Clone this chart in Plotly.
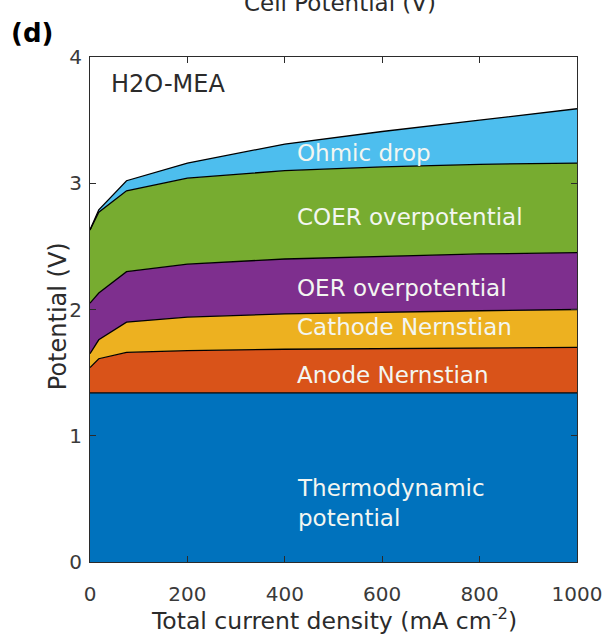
import plotly.graph_objects as go

# current density (mA cm^-2)
current_density = [0, 18, 75, 200, 400, 600, 800, 1000]

# cumulative tops (V)
thermo_top = [1.34, 1.34, 1.34, 1.34, 1.34, 1.34, 1.34, 1.34]
anode_top = [1.54, 1.61, 1.66, 1.675, 1.685, 1.69, 1.695, 1.70]
cathode_top = [1.65, 1.76, 1.90, 1.94, 1.965, 1.98, 1.99, 2.00]
oer_top = [2.05, 2.13, 2.30, 2.36, 2.40, 2.42, 2.44, 2.45]
coer_top = [2.63, 2.77, 2.94, 3.04, 3.10, 3.13, 3.15, 3.16]
total_top = [2.63, 2.79, 3.02, 3.16, 3.31, 3.41, 3.50, 3.59]

def diff(a, b):
    return [round(x - y, 4) for x, y in zip(a, b)]

thermodynamic = thermo_top
anode_nernst = diff(anode_top, thermo_top)
cathode_nernst = diff(cathode_top, anode_top)
oer_over = diff(oer_top, cathode_top)
coer_over = diff(coer_top, oer_top)
ohmic_drop = diff(total_top, coer_top)

layers = [
    ("Thermodynamic potential", thermodynamic, "#0072BD"),
    ("Anode Nernstian", anode_nernst, "#D95319"),
    ("Cathode Nernstian", cathode_nernst, "#EDB120"),
    ("OER overpotential", oer_over, "#7E2F8E"),
    ("COER overpotential", coer_over, "#77AC30"),
    ("Ohmic drop", ohmic_drop, "#4DBEEE"),
]

label_x = 420
label_texts = ["Thermodynamic<br>potential", "Anode Nernstian", "Cathode Nernstian",
               "OER overpotential", "COER overpotential", "Ohmic drop"]
label_y = [0.47, 1.48, 1.86, 2.17, 2.73, 3.24]

x_ticks = [0, 200, 400, 600, 800, 1000]
y_ticks = [0, 1, 2, 3, 4]

FONT = "DejaVu Sans, Verdana, sans-serif"
AX = "#2b2b2b"

# plot area in pixels
L, R, T, B = 90, 34, 57, 82
W, H = 614, 644
PW, PH = W - L - R, H - T - B

def px_to_paper_x(px):
    return (px - L) / PW

def px_to_paper_y(py):
    return (H - B - py) / PH

fig = go.Figure()
for name, vals, col in layers:
    fig.add_trace(go.Scatter(
        x=current_density, y=vals, name=name, mode="lines",
        stackgroup="one", fill="tonexty", fillcolor=col,
        line=dict(color="black", width=1.3), showlegend=False,
    ))

for t, yv in zip(label_texts, label_y):
    fig.add_annotation(x=label_x, y=yv, xref="x", yref="y", text=t,
                       showarrow=False, xanchor="left", yanchor="middle", align="left",
                       font=dict(family=FONT, size=23, color="#F3F6F1"))

fig.add_annotation(x=38, y=3.79, xref="x", yref="y", text="H2O-MEA", showarrow=False,
                   xanchor="left", yanchor="middle",
                   font=dict(family=FONT, size=24, color=AX))

fig.add_annotation(x=px_to_paper_x(32), y=px_to_paper_y(33), xref="paper", yref="paper",
                   text="<b>(d)</b>", showarrow=False, xanchor="center", yanchor="middle",
                   font=dict(family=FONT, size=26, color="black"))

fig.add_annotation(x=px_to_paper_x(342), y=px_to_paper_y(18), xref="paper", yref="paper",
                   text="Cell Potential (V)", showarrow=False, xanchor="center", yanchor="bottom",
                   font=dict(family=FONT, size=23, color=AX))

fig.add_annotation(x=0.5, y=px_to_paper_y(619), xref="paper", yref="paper",
                   text="Total current density (mA cm<sup>-2</sup>)", showarrow=False,
                   xanchor="center", yanchor="middle",
                   font=dict(family=FONT, size=23.5, color=AX))

fig.add_annotation(x=px_to_paper_x(58), y=px_to_paper_y(316), xref="paper", yref="paper",
                   text="Potential (V)", showarrow=False, textangle=-90,
                   xanchor="center", yanchor="middle",
                   font=dict(family=FONT, size=24, color=AX))

fig.update_layout(
    width=W, height=H,
    margin=dict(l=L, r=R, t=T, b=B),
    paper_bgcolor="white", plot_bgcolor="white",
    font=dict(family=FONT, size=20, color=AX),
    xaxis=dict(range=[0, 1000], tickvals=x_ticks,
               ticks="inside", ticklen=6, tickcolor=AX, showline=True, linecolor=AX,
               linewidth=1, mirror="ticks", showgrid=False, zeroline=False,
               ticklabelstandoff=14, tickfont=dict(size=20, color="#3a3a3a")),
    yaxis=dict(range=[0, 4], tickvals=y_ticks,
               ticks="inside", ticklen=6, tickcolor=AX, showline=True, linecolor=AX,
               linewidth=1, mirror="ticks", showgrid=False, zeroline=False,
               ticklabelstandoff=3, tickfont=dict(size=20, color="#3a3a3a")),
)

fig.write_html("out.html")
